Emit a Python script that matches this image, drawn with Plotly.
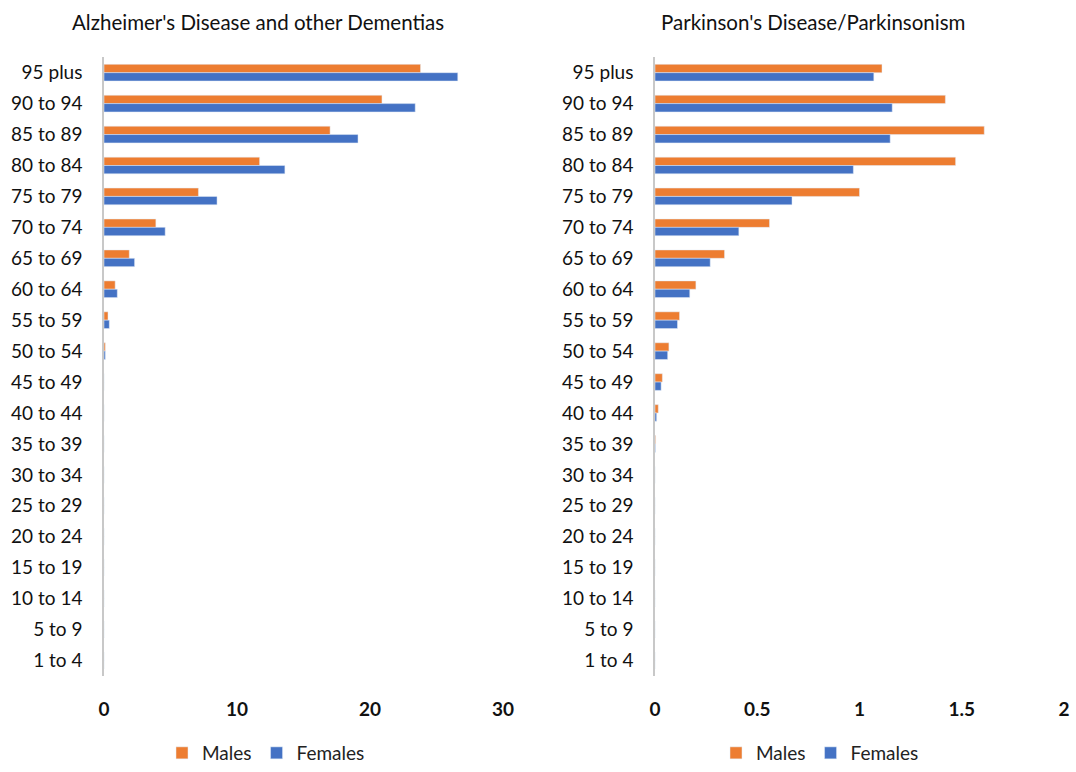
import plotly.graph_objects as go

age_groups = ["95 plus", "90 to 94", "85 to 89", "80 to 84", "75 to 79", "70 to 74",
              "65 to 69", "60 to 64", "55 to 59", "50 to 54", "45 to 49", "40 to 44",
              "35 to 39", "30 to 34", "25 to 29", "20 to 24", "15 to 19", "10 to 14",
              "5 to 9", "1 to 4"]

alz_males = [23.8, 20.9, 17.0, 11.7, 7.1, 3.9, 1.9, 0.84, 0.3, 0.1,
             0, 0, 0, 0, 0, 0, 0, 0, 0, 0]
alz_females = [26.6, 23.4, 19.1, 13.6, 8.5, 4.6, 2.3, 1.0, 0.4, 0.1,
               0, 0, 0, 0, 0, 0, 0, 0, 0, 0]

park_males = [1.11, 1.42, 1.61, 1.47, 1.0, 0.56, 0.34, 0.2, 0.12, 0.068,
              0.036, 0.016, 0.003, 0, 0, 0, 0, 0, 0, 0]
park_females = [1.07, 1.16, 1.15, 0.97, 0.67, 0.41, 0.27, 0.17, 0.11, 0.062,
                0.03, 0.008, 0.002, 0, 0, 0, 0, 0, 0, 0]

alz_ticks = [0, 10, 20, 30]
park_ticks = [0, 0.5, 1, 1.5, 2]

ORANGE = "#ED7D31"
BLUE = "#4472C4"
FONT = "Lato"

fig = go.Figure()

fig.add_trace(go.Bar(y=age_groups, x=alz_males, orientation="h", name="Males",
                     marker_color=ORANGE, xaxis="x", yaxis="y", legend="legend"))
fig.add_trace(go.Bar(y=age_groups, x=alz_females, orientation="h", name="Females",
                     marker_color=BLUE, xaxis="x", yaxis="y", legend="legend"))
fig.add_trace(go.Bar(y=age_groups, x=park_males, orientation="h", name="Males",
                     marker_color=ORANGE, xaxis="x2", yaxis="y2", legend="legend2"))
fig.add_trace(go.Bar(y=age_groups, x=park_females, orientation="h", name="Females",
                     marker_color=BLUE, xaxis="x2", yaxis="y2", legend="legend2"))

W, H = 1076, 772
y_top = (H - 57.5) / H
y_bot = (H - 679.5) / H

xaxis_common = dict(showgrid=False, zeroline=False, showline=False, ticks="",
                    tickfont=dict(family=FONT, size=19, color="#111111", weight="bold"),
                    ticklabelstandoff=20, fixedrange=True, automargin=False)
yaxis_common = dict(showgrid=False, zeroline=False, showline=True, linecolor="#c8c8c8",
                    linewidth=1.5, ticks="", autorange="reversed", type="category",
                    tickfont=dict(family=FONT, size=19, color="#111111"),
                    ticklabelstandoff=16, domain=[y_bot, y_top], automargin=False)

legend_common = dict(orientation="h", y=(H - 757) / H, xanchor="center", yanchor="middle",
                     font=dict(family=FONT, size=19, color="#222222"),
                     itemwidth=30, traceorder="normal", bgcolor="rgba(0,0,0,0)")

fig.update_layout(
    width=W, height=H,
    margin=dict(l=0, r=0, t=0, b=0),
    paper_bgcolor="white", plot_bgcolor="white",
    barmode="group", bargap=0.46, bargroupgap=0.0,
    xaxis=dict(domain=[104 / W, 503 / W], range=[0, 30], tickvals=alz_ticks,
               anchor="y", **xaxis_common),
    yaxis=dict(anchor="x", **yaxis_common),
    xaxis2=dict(domain=[655 / W, 1064 / W], range=[0, 2], tickvals=park_ticks,
                anchor="y2", **xaxis_common),
    yaxis2=dict(anchor="x2", **yaxis_common),
    legend=dict(x=266 / W, **legend_common),
    legend2=dict(x=820 / W, **legend_common),
    annotations=[
        dict(text="Alzheimer's Disease and other Dementias", x=258 / W, y=(H - 22) / H,
             xref="paper", yref="paper", showarrow=False, xanchor="center", yanchor="middle",
             font=dict(family=FONT, size=20.5, color="#111111")),
        dict(text="Parkinson's Disease/Parkinsonism", x=813 / W, y=(H - 22) / H,
             xref="paper", yref="paper", showarrow=False, xanchor="center", yanchor="middle",
             font=dict(family=FONT, size=20.5, color="#111111")),
    ],
)

fig.write_html("out.html")
